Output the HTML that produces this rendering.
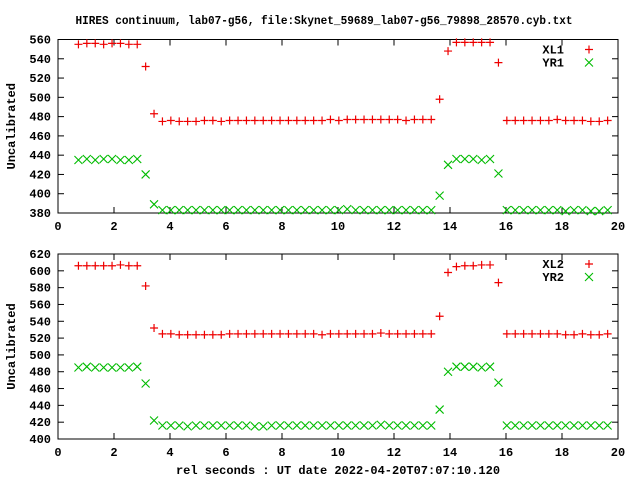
<!DOCTYPE html>
<html><head><meta charset="utf-8"><style>
html,body{margin:0;padding:0;background:#fff;}
svg text{font-family:"Liberation Mono",monospace;font-weight:bold;font-size:12px;fill:#000;}
</style></head><body>
<svg id="chart" width="640" height="480" viewBox="0 0 640 480" xmlns="http://www.w3.org/2000/svg">
<text x="324" y="24" text-anchor="middle" textLength="497" lengthAdjust="spacingAndGlyphs">HIRES continuum, lab07-g56, file:Skynet_59689_lab07-g56_79898_28570.cyb.txt</text>
<text x="338" y="474" text-anchor="middle">rel seconds : UT date 2022-04-20T07:07:10.120</text>
</svg>
<script>
const times = [0.73,1.03,1.33,1.63,1.93,2.23,2.53,2.83,3.13,3.43,3.73,4.03,4.33,4.63,4.93,5.23,5.53,5.83,6.13,6.43,6.73,7.03,7.33,7.63,7.93,8.23,8.53,8.83,9.13,9.43,9.73,10.03,10.33,10.63,10.93,11.23,11.53,11.83,12.13,12.43,12.73,13.03,13.33,13.63,13.93,14.23,14.53,14.83,15.13,15.43,15.73,16.03,16.33,16.63,16.93,17.23,17.53,17.83,18.13,18.43,18.73,19.03,19.33,19.63];
const xl1 = [555,556,556,555,556,556,555,555,532,483,475,476,475,475,475,476,476,475,476,476,476,476,476,476,476,476,476,476,476,476,477,476,477,477,477,477,477,477,477,476,477,477,477,498,548,557,557,557,557,557,536,476,476,476,476,476,476,477,476,476,476,475,475,476];
const yr1 = [435,436,435,436,436,435,435,436,420,389,383,383,383,383,383,383,383,383,383,383,383,383,383,383,383,383,383,383,383,383,383,383,384,383,383,383,383,383,383,383,383,383,383,398,430,436,436,436,435,436,421,383,383,383,383,383,383,383,382,383,383,382,382,383];
const xl2 = [606,606,606,606,606,607,606,606,582,532,525,525,524,524,524,524,524,524,525,525,525,525,525,525,525,525,525,525,525,524,525,525,525,525,525,525,526,525,525,525,525,525,525,546,598,605,606,606,607,607,586,525,525,525,525,525,525,525,524,524,525,524,524,525];
const yr2 = [485,486,485,485,485,485,485,486,466,422,416,416,416,415,416,416,416,416,416,416,416,415,415,416,416,416,416,416,416,416,416,416,416,416,416,416,417,416,416,416,416,416,416,435,480,486,486,486,485,486,467,416,416,416,416,416,416,416,416,416,416,416,416,416];
const xTicks = [0,2,4,6,8,10,12,14,16,18,20];
const yTicksTop = [380,400,420,440,460,480,500,520,540,560];
const yTicksBot = [400,420,440,460,480,500,520,540,560,580,600,620];

const NS = "http://www.w3.org/2000/svg";
const svg = document.getElementById('chart');
function mk(tag, attrs, parent){const e=document.createElementNS(NS,tag);for(const k in attrs)e.setAttribute(k,attrs[k]);(parent||svg).appendChild(e);return e;}

function panel(name, top, bottom, ymin, ymax, yTicks, s1, s2, n1, n2){
  const L=58, R=618;
  const xs = v => L + (v-0)/(20-0)*(R-L);
  const ys = v => bottom - (v-ymin)/(ymax-ymin)*(bottom-top);
  const g = mk('g',{});
  
  
  xTicks.forEach(t=>{
    const x=xs(t);
    mk('line',{x1:x,y1:bottom,x2:x,y2:bottom-6,stroke:'#000','stroke-width':1},g);
    mk('line',{x1:x,y1:top,x2:x,y2:top+6,stroke:'#000','stroke-width':1},g);
    const tx=mk('text',{x:x,y:bottom+17,'text-anchor':'middle'},g);
    tx.textContent=t;
    
    
  });
  yTicks.forEach(t=>{
    const y=ys(t);
    mk('line',{x1:L,y1:y,x2:L+6,y2:y,stroke:'#000','stroke-width':1},g);
    mk('line',{x1:R,y1:y,x2:R-6,y2:y,stroke:'#000','stroke-width':1},g);
    const tx=mk('text',{x:51,y:y+4,'text-anchor':'end'},g);
    tx.textContent=t;
    
    
  });
  const frame=mk('rect',{x:L,y:top,width:R-L,height:bottom-top,fill:'none',stroke:'#000','stroke-width':1},g);
  
  
  const yl=mk('text',{x:0,y:0,'text-anchor':'middle',transform:`translate(15,${(top+bottom)/2}) rotate(-90)`},g);
  yl.textContent='Uncalibrated';
  
  
  function plus(x,y,parent){mk('path',{d:`M${x-4},${y}H${x+4}M${x},${y-4}V${y+4}`,stroke:'#e00','stroke-width':1.2,fill:'none'},parent);}
  function cross(x,y,parent){mk('path',{d:`M${x-4},${y-4}L${x+4},${y+4}M${x-4},${y+4}L${x+4},${y-4}`,stroke:'#0b0','stroke-width':1.1,fill:'none'},parent);}
  const g1=mk('g',{},g);
  
  
  s1.forEach((v,i)=>plus(xs(times[i]),ys(v),g1));
  const g2=mk('g',{},g);
  
  
  s2.forEach((v,i)=>cross(xs(times[i]),ys(v),g2));
  const lg=mk('g',{},g);
  
  
  const t1=mk('text',{x:564,y:top+14,'text-anchor':'end'},lg); t1.textContent=n1;
  
  
  plus(589,top+10,lg);
  const t2=mk('text',{x:564,y:top+27,'text-anchor':'end'},lg); t2.textContent=n2;
  
  
  cross(589,top+23,lg);
}
panel('top',39.5,213,380,560,yTicksTop,xl1,yr1,'XL1','YR1');
panel('bottom',254,439,400,620,yTicksBot,xl2,yr2,'XL2','YR2');
</script>
</body></html>
